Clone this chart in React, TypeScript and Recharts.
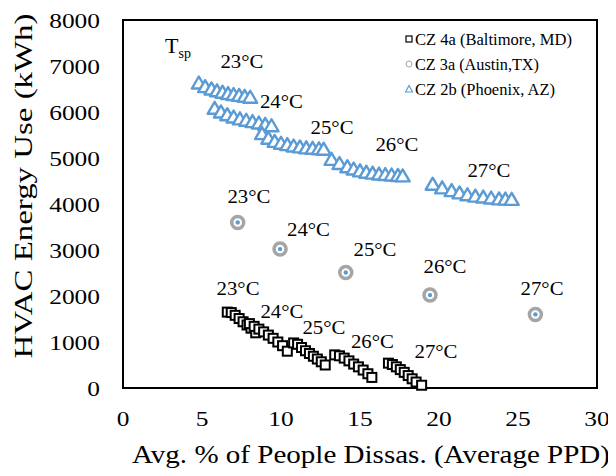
import React from "react"
import { ScatterChart, Scatter, XAxis, YAxis, ReferenceArea } from "recharts"

const serif = "'Liberation Serif', 'Times New Roman', serif"
const BLUE = "#5B9BD5"
const GREY = "#A5A5A5"

const setpoints = ["23°C", "24°C", "25°C", "26°C", "27°C"]

// CZ 2b Phoenix, one sub-array per setpoint
const phoenixPPD = [
  [4.8, 5.2, 5.6, 5.95, 6.3, 6.65, 7.0, 7.35, 7.7, 8.05],
  [5.8, 6.2, 6.6, 7.0, 7.4, 7.8, 8.2, 8.6, 9.0, 9.4],
  [8.8, 9.2, 9.6, 10.0, 10.4, 10.8, 11.2, 11.6, 12.0, 12.4, 12.7],
  [13.2, 13.7, 14.2, 14.6, 15.0, 15.4, 15.8, 16.2, 16.6, 17.0, 17.4, 17.7],
  [19.6, 20.2, 20.8, 21.3, 21.8, 22.3, 22.8, 23.3, 23.8, 24.2, 24.6],
]
const phoenixEnergy = [
  [6620, 6540, 6490, 6450, 6420, 6390, 6370, 6350, 6330, 6310],
  [6070, 5990, 5930, 5880, 5840, 5810, 5780, 5750, 5720, 5690],
  [5520, 5420, 5350, 5310, 5280, 5250, 5230, 5210, 5200, 5190, 5180],
  [4960, 4870, 4800, 4750, 4710, 4680, 4660, 4640, 4630, 4620, 4610, 4600],
  [4420, 4340, 4280, 4230, 4190, 4160, 4140, 4120, 4100, 4095, 4090],
]

// CZ 3a Austin
const austinPPD = [7.26, 9.94, 14.1, 19.43, 26.1]
const austinEnergy = [3600, 3020, 2510, 2020, 1600]

// CZ 4a Baltimore
const baltimorePPD = [
  [6.6, 6.85, 7.1, 7.35, 7.6, 7.85, 8.1, 8.4],
  [8.0, 8.3, 8.6, 8.9, 9.2, 9.5, 9.8, 10.1, 10.4],
  [10.8, 11.05, 11.3, 11.55, 11.8, 12.05, 12.3, 12.55, 12.8],
  [13.4, 13.7, 14.0, 14.3, 14.6, 14.9, 15.2, 15.5, 15.75],
  [16.8, 17.05, 17.3, 17.55, 17.8, 18.05, 18.3, 18.55, 18.9],
]
const baltimoreEnergy = [
  [1650, 1640, 1580, 1510, 1440, 1370, 1300, 1200],
  [1400, 1340, 1280, 1220, 1150, 1080, 1000, 920, 800],
  [980, 950, 880, 810, 750, 690, 630, 570, 500],
  [720, 700, 650, 590, 520, 460, 390, 310, 230],
  [540, 510, 460, 400, 340, 270, 200, 130, 60],
]

// setpoint label anchors (data coords)
const phoenixLabelX = [7.53, 10.03, 13.23, 17.34, 23.16]
const phoenixLabelY = [7087, 6217, 5663, 5283, 4728]
const austinLabelX = [7.97, 11.74, 15.95, 20.38, 26.52]
const austinLabelY = [4152, 3446, 3000, 2630, 2152]
const baltimoreLabelX = [7.28, 10.06, 12.72, 15.79, 19.81]
const baltimoreLabelY = [2152, 1659, 1304, 1007, 783]
const tspLabel = { x: 3.55, y: 7440 }

const xTicks = [0, 5, 10, 15, 20, 25, 30]
const yTicks = [0, 1000, 2000, 3000, 4000, 5000, 6000, 7000, 8000]

const legendNames = ["CZ 4a (Baltimore, MD)", "CZ 3a (Austin,TX)", "CZ 2b (Phoenix, AZ)"]
const legendWidths = [157, 124, 140]

const flatten = (xs: number[][], ys: number[][]) =>
  xs.flatMap((row, i) => row.map((x, j) => ({ x, y: ys[i][j] })))

const phoenixData = flatten(phoenixPPD, phoenixEnergy)
const baltimoreData = flatten(baltimorePPD, baltimoreEnergy)
const austinData = austinPPD.map((x, i) => ({ x, y: austinEnergy[i] }))

const labelData = [
  ...setpoints.map((t, i) => ({ x: phoenixLabelX[i], y: phoenixLabelY[i], text: t })),
  ...setpoints.map((t, i) => ({ x: austinLabelX[i], y: austinLabelY[i], text: t })),
  ...setpoints.map((t, i) => ({ x: baltimoreLabelX[i], y: baltimoreLabelY[i], text: t })),
  { x: tspLabel.x, y: tspLabel.y, text: "Tsp" },
]

const Triangle = (p: any) => (
  <path
    d={`M${p.cx},${p.cy - 7}L${p.cx - 7},${p.cy + 5}L${p.cx + 7},${p.cy + 5}Z`}
    fill="#fff"
    stroke={BLUE}
    strokeWidth={2.4}
    strokeLinejoin="round"
  />
)

const Square = (p: any) => (
  <rect x={p.cx - 4.5} y={p.cy - 4.5} width={9} height={9} fill="#fff" stroke="#000" strokeWidth={2} />
)

const Ring = (p: any) => (
  <g>
    <circle cx={p.cx} cy={p.cy} r={6} fill="#fff" stroke={GREY} strokeWidth={3.5} />
    <circle cx={p.cx} cy={p.cy} r={2.2} fill={BLUE} />
  </g>
)

const TextMark = (p: any) => {
  const t = p.payload.text
  if (t === "Tsp") {
    return (
      <text x={p.cx - 14} y={p.cy} dy="0.35em" fontFamily={serif} fontSize={22} fill="#000">
        T<tspan fontSize={14} dy={5}>sp</tspan>
      </text>
    )
  }
  return (
    <text
      x={p.cx}
      y={p.cy}
      dy="0.35em"
      textAnchor="middle"
      fontFamily={serif}
      fontSize={18}
      textLength={43}
      lengthAdjust="spacingAndGlyphs"
      fill="#000"
    >
      {t}
    </text>
  )
}

const YTick = ({ x, y, payload }: any) => {
  const s = String(payload.value)
  return (
    <text x={x - 23} y={y} dy="0.35em" textAnchor="end" fontFamily={serif} fontSize={22}
      textLength={s.length * 12.7} lengthAdjust="spacingAndGlyphs" fill="#000">
      {s}
    </text>
  )
}

const XTick = ({ x, y, payload }: any) => {
  const s = String(payload.value)
  return (
    <text x={x} y={y + 30} dy="0.35em" textAnchor="middle" fontFamily={serif} fontSize={22}
      textLength={s.length * 12.7} lengthAdjust="spacingAndGlyphs" fill="#000">
      {s}
    </text>
  )
}

export default function App() {
  return (
    <div style={{ position: "relative", width: 600, height: 460 }}>
      <ScatterChart width={600} height={460} margin={{ top: 12, right: 11, bottom: 0, left: 0 }}>
        <XAxis
          type="number"
          dataKey="x"
          domain={[0, 30]}
          ticks={xTicks}
          height={80}
          axisLine={false}
          tickLine={false}
          tickSize={0}
          tickMargin={0}
          tick={<XTick />}
          label={{
            content: (props: any) => {
              const vb = props.viewBox
              return (
                <text x={vb.x + vb.width / 2 + 11} y={vb.y + 75} textAnchor="middle" fontFamily={serif}
                  fontSize={25} textLength={478} lengthAdjust="spacingAndGlyphs" fill="#000">
                  Avg. % of People Dissas. (Average PPD)
                </text>
              )
            },
          }}
        />
        <YAxis
          type="number"
          dataKey="y"
          domain={[0, 8000]}
          ticks={yTicks}
          width={115}
          axisLine={false}
          tickLine={false}
          tickSize={0}
          tickMargin={0}
          tick={<YTick />}
          label={{
            content: (props: any) => {
              const vb = props.viewBox
              const cy = vb.y + vb.height / 2 - 18
              return (
                <text x={24} y={cy} transform={`rotate(-90, 24, ${cy})`} textAnchor="middle" fontFamily={serif}
                  fontSize={25} textLength={345} lengthAdjust="spacingAndGlyphs" fill="#000">
                  HVAC Energy Use (kWh)
                </text>
              )
            },
          }}
        />
        <ReferenceArea x1={0} x2={30} y1={0} y2={8000} fill="none" stroke="#000" strokeWidth={2} />
        <Scatter name={legendNames[0]} data={baltimoreData} shape={Square} isAnimationActive={false} />
        <Scatter name={legendNames[1]} data={austinData} shape={Ring} isAnimationActive={false} />
        <Scatter name={legendNames[2]} data={phoenixData} shape={Triangle} isAnimationActive={false} />
        <Scatter name="labels" data={labelData} shape={TextMark} isAnimationActive={false} />
      </ScatterChart>
      <svg style={{ position: "absolute", left: 397, top: 18 }} width={170} height={80}>
        {legendNames.map((name, i) => {
          const cy = 13 + i * 25
          return (
            <g key={name}>
              {i === 0 && <rect x={1} y={cy - 3} width={6} height={6} fill="#fff" stroke="#000" strokeWidth={1.2} />}
              {i === 1 && <circle cx={4} cy={cy} r={3} fill="#fff" stroke={GREY} strokeWidth={1} />}
              {i === 2 && (
                <path d={`M4,${cy - 3.5}L0.5,${cy + 3}L7.5,${cy + 3}Z`} fill="#fff" stroke={BLUE} strokeWidth={1.2} />
              )}
              <text x={10} y={cy} dy="0.35em" fontFamily={serif} fontSize={16} textLength={legendWidths[i]}
                lengthAdjust="spacingAndGlyphs" fill="#000">
                {name}
              </text>
            </g>
          )
        })}
      </svg>
    </div>
  )
}
